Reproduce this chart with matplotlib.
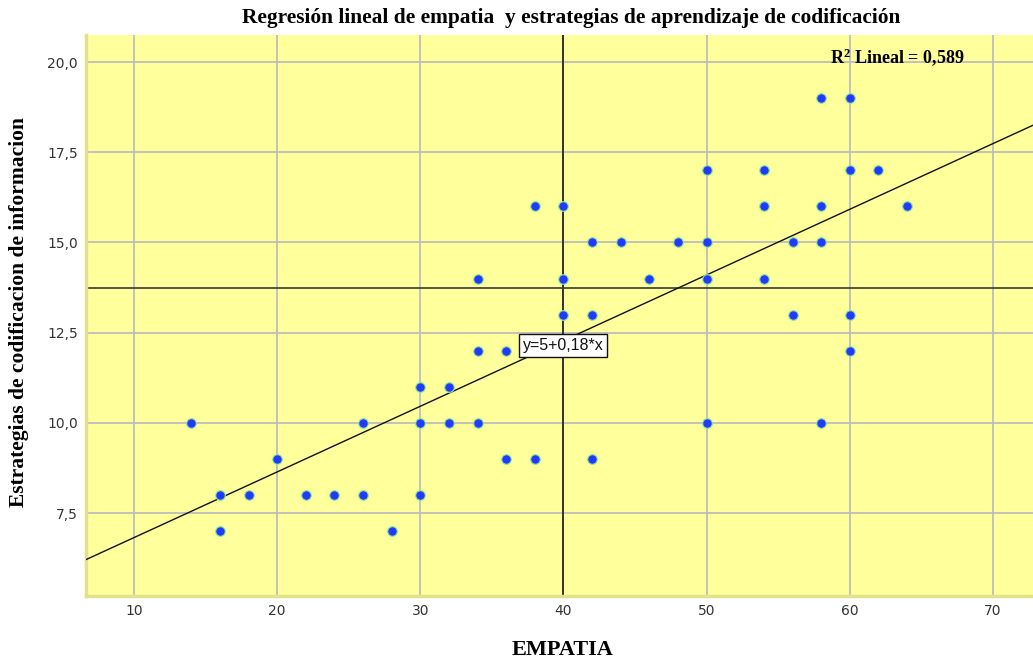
import numpy as np
import matplotlib
matplotlib.use("Agg")
import matplotlib.pyplot as plt
from matplotlib.ticker import FuncFormatter

# data
empatia = [14, 16, 16, 18, 20, 22, 24, 26, 26, 28,
           30, 30, 30, 32, 32, 34, 34, 34, 36, 36,
           38, 38, 40, 40, 40, 42, 42, 42, 44, 46,
           48, 50, 50, 50, 50, 54, 54, 54, 56, 56,
           58, 58, 58, 58, 60, 60, 60, 60, 62, 64]
estrategias = [10, 8, 7, 8, 9, 8, 8, 8, 10, 7,
               11, 10, 8, 11, 10, 14, 12, 10, 12, 9,
               16, 9, 16, 14, 13, 15, 13, 9, 15, 14,
               15, 17, 15, 14, 10, 17, 16, 14, 15, 13,
               19, 16, 15, 10, 19, 17, 13, 12, 17, 16]

intercept = 5.0
slope = 0.182
r2 = 0.589
ref_x = 40
ref_y = 13.75

x_ticks = [10, 20, 30, 40, 50, 60, 70]
y_ticks = [7.5, 10.0, 12.5, 15.0, 17.5, 20.0]

serif = ["Liberation Serif", "DejaVu Serif"]
plt.rcParams["mathtext.fontset"] = "custom"
plt.rcParams["mathtext.rm"] = "Liberation Serif:bold"
plt.rcParams["mathtext.bf"] = "Liberation Serif:bold"

fig = plt.figure(figsize=(10.33, 6.61), dpi=100)
ax = fig.add_axes([0.0833, 0.0983, 0.9167, 0.8487])
ax.set_facecolor("#ffff9b")

xmin, xmax = 6.65, 72.8
ax.set_xlim(xmin, xmax)
ax.set_ylim(5.2, 20.75)

ax.set_xticks(x_ticks)
ax.set_yticks(y_ticks)
ax.yaxis.set_major_formatter(FuncFormatter(lambda v, p: f"{v:.1f}".replace(".", ",")))
ax.tick_params(length=0, labelsize=10, labelcolor="#333333", pad=6)
ax.grid(True, color="#bdbdbd", linewidth=1.3)
ax.set_axisbelow(True)

for s in ["top", "right"]:
    ax.spines[s].set_visible(False)
for s in ["left", "bottom"]:
    ax.spines[s].set_color("#e2e28c")
    ax.spines[s].set_linewidth(2.5)

# reference lines
ax.axvline(ref_x, color="#1a1a1a", linewidth=1.2, zorder=2)
ax.axhline(ref_y, color="#3a3a3a", linewidth=1.2, zorder=2)

# regression line
xs = np.array([xmin, xmax])
ax.plot(xs, intercept + slope * xs, color="#111111", linewidth=1.0, zorder=3)

ax.scatter(empatia, estrategias, s=48, color="#2438ff", edgecolors="#8cf08c",
           linewidths=0.8, zorder=4)

# equation label on the line
lx = 36.8
ax.annotate("y=5+0,18*x", xy=(lx, intercept + slope * lx + 0.1),
            xytext=(3.5, 3.5), textcoords="offset points",
            ha="left", va="bottom", fontsize=11.5, family="Liberation Sans",
            color="#111111", zorder=5,
            bbox=dict(boxstyle="square,pad=0.25", facecolor="white",
                      edgecolor="#111111", linewidth=1.0))

r2_text = f"{r2:.3f}".replace(".", ",")
ax.text(58.6, 19.85, r"$\mathrm{R^2}$" + f" Lineal = {r2_text}",
        fontsize=13, family=serif, fontweight="bold", ha="left", va="bottom", zorder=5)

fig.text(0.553, 0.973, "Regresión lineal de empatia  y estrategias de aprendizaje de codificación",
         ha="center", va="center", fontsize=15.4, family=serif, fontweight="bold")
fig.text(0.545, 0.017, "EMPATIA", ha="center", va="center", fontsize=16,
         family=serif, fontweight="bold")
fig.text(0.018, 0.528, "Estrategias de codificacion de informacion", ha="center", va="center",
         rotation=90, fontsize=15.5, family=serif, fontweight="bold")

fig.savefig("out.png", dpi=100)
